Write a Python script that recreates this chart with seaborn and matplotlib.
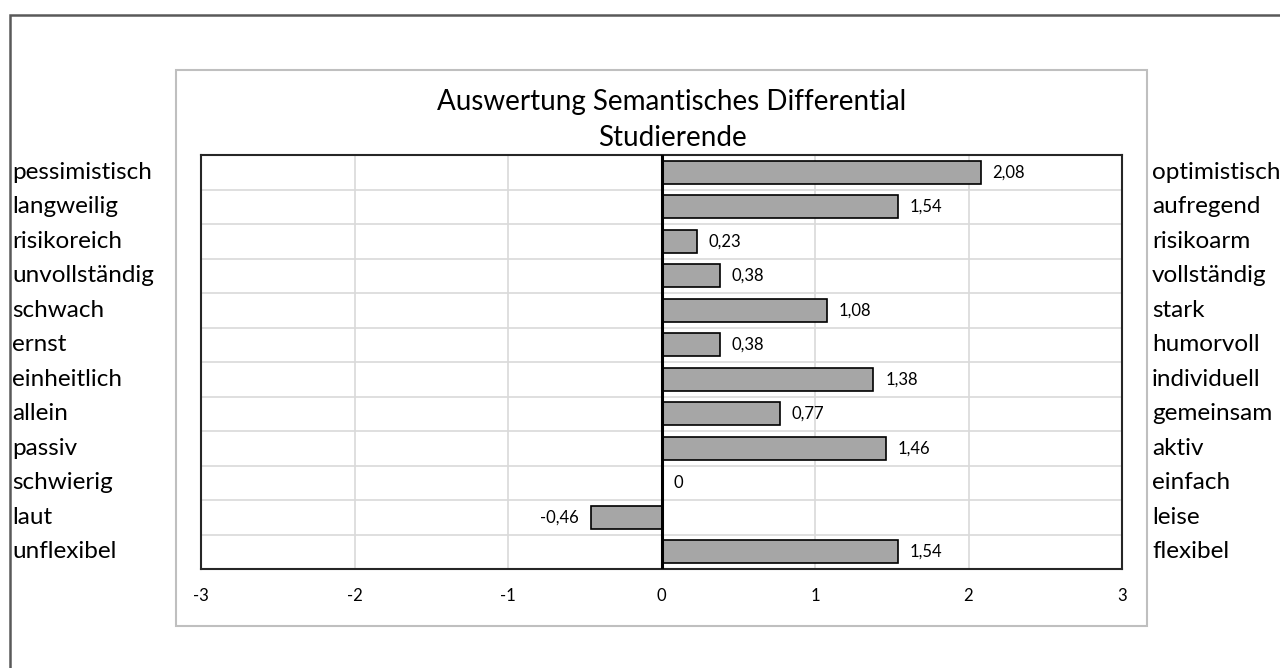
import matplotlib
matplotlib.use("Agg")
import matplotlib.pyplot as plt
import matplotlib.transforms as mtransforms
from matplotlib.patches import Rectangle
import numpy as np
import pandas as pd
import seaborn as sns

left_labels = ["pessimistisch", "langweilig", "risikoreich", "unvollständig", "schwach", "ernst",
               "einheitlich", "allein", "passiv", "schwierig", "laut", "unflexibel"]
right_labels = ["optimistisch", "aufregend", "risikoarm", "vollständig", "stark", "humorvoll",
                "individuell", "gemeinsam", "aktiv", "einfach", "leise", "flexibel"]
values = [2.08, 1.54, 0.23, 0.38, 1.08, 0.38, 1.38, 0.77, 1.46, 0.0, -0.46, 1.54]
x_ticks = [-3, -2, -1, 0, 1, 2, 3]

df = pd.DataFrame({"pair": left_labels, "wert": values})

sns.set_style("white")
plt.rcParams["font.family"] = ["Lato", "DejaVu Sans"]
plt.rcParams["text.color"] = "black"
plt.rcParams["xtick.color"] = "black"

fig = plt.figure(figsize=(12.8, 6.68), dpi=100)
ax = fig.add_axes([201 / 1280, 1 - 569 / 668, 921 / 1280, 414 / 668])

sns.barplot(data=df, x="wert", y="pair", orient="h", color="#a6a6a6", saturation=1,
            edgecolor="black", linewidth=1.2, width=0.67, ax=ax, zorder=3)

ax.set_xlim(-3, 3)
ax.set_ylim(len(values) - 0.5, -0.5)
ax.set_xticks(x_ticks)
ax.set_xticklabels([str(t) for t in x_ticks], fontsize=12)
ax.tick_params(axis="x", length=0, pad=14, labelcolor="black")
ax.set_yticks(np.arange(-0.5, len(values), 1.0))
ax.set_yticklabels([])
ax.tick_params(axis="y", length=0)
ax.set_xlabel("")
ax.set_ylabel("")
ax.grid(True, color="#d9d9d9", linewidth=1.2, zorder=0)
ax.set_axisbelow(True)
for s in ax.spines.values():
    s.set_color("#262626")
    s.set_linewidth(1.5)
ax.axvline(0, color="black", linewidth=2.2, zorder=4)

# value labels
for i, v in enumerate(values):
    txt = f"{v:.2f}".replace(".", ",") if v != 0 else "0"
    if v < 0:
        ax.annotate(txt, (v, i), xytext=(-8.5, 0), textcoords="offset points",
                    ha="right", va="center", fontsize=12)
    else:
        ax.annotate(txt, (v, i), xytext=(8.5, 0), textcoords="offset points",
                    ha="left", va="center", fontsize=12)

# pole labels outside the chart box
trans = mtransforms.blended_transform_factory(fig.transFigure, ax.transData)
for i in range(len(values)):
    fig.text(12 / 1280, i, left_labels[i], transform=trans, ha="left", va="center", fontsize=17.5)
    fig.text(1152 / 1280, i, right_labels[i], transform=trans, ha="left", va="center", fontsize=17.5)

fig.text(672 / 1280, 1 - 120 / 668, "Auswertung Semantisches Differential\nStudierende",
         ha="center", va="center", fontsize=20, linespacing=1.45)

# chart area box and outer frame
fig.patches.append(Rectangle((176 / 1280, 1 - 626 / 668), 971 / 1280, 556 / 668,
                             transform=fig.transFigure, fill=False, edgecolor="#bfbfbf", linewidth=1.5))
fig.patches.append(Rectangle((10 / 1280, -0.05), 1.1, 1 - 15 / 668 + 0.05,
                             transform=fig.transFigure, fill=False, edgecolor="#595959", linewidth=1.8,
                             clip_on=False))

fig.savefig("out.png", dpi=100)
